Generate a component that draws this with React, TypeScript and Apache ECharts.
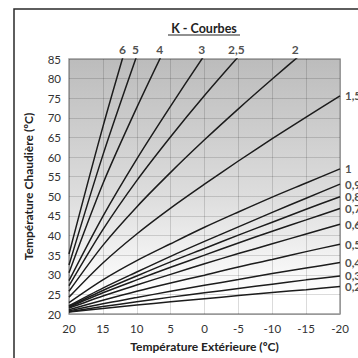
import React, { useEffect, useRef } from "react";
import * as echarts from "echarts";

const outsideTemps = [20, 15, 10, 5, 0, -5, -10, -15, -20];

const curveNames = ["6", "5", "4", "3", "2,5", "2", "1,5", "1", "0,9", "0,8", "0,7", "0,6", "0,5", "0,4", "0,3", "0,2"];

const k6 = [35.3, 67.7, 97.5];
const k5 = [32.5, 60.5, 85.8, 110];
const k4 = [30.5, 53.2, 72.6, 90.7];
const k3 = [28.5, 44.9, 59.5, 73.0, 86.0];
const k25 = [27.2, 41.5, 54.0, 65.2, 75.7, 85.6, 95.2];
const k2 = [25.8, 37.5, 47.3, 56.1, 64.4, 72.3, 79.9, 87.3];
const k15 = [24.3, 33.0, 40.4, 47.0, 53.1, 59.0, 64.7, 70.2, 75.6];
const k1 = [22.9, 28.7, 33.6, 37.9, 42.1, 46.0, 49.8, 53.4, 57.0];
const k09 = [22.1, 26.6, 30.7, 34.7, 38.5, 42.2, 45.9, 49.5, 53.1];
const k08 = [21.9, 26.0, 29.7, 33.3, 36.7, 40.1, 43.4, 46.7, 49.9];
const k07 = [21.7, 25.4, 28.7, 31.9, 35.0, 38.1, 41.1, 44.0, 46.9];
const k06 = [21.5, 24.6, 27.4, 30.1, 32.8, 35.4, 37.9, 40.4, 42.9];
const k05 = [21.1, 23.5, 25.8, 27.9, 29.9, 32.0, 33.9, 35.9, 37.8];
const k04 = [20.8, 22.6, 24.2, 25.8, 27.3, 28.8, 30.3, 31.7, 33.1];
const k03 = [20.6, 21.9, 23.1, 24.3, 25.4, 26.5, 27.6, 28.7, 29.7];
const k02 = [20.5, 21.4, 22.3, 23.1, 23.9, 24.7, 25.5, 26.2, 27.0];

const curves = [k6, k5, k4, k3, k25, k2, k15, k1, k09, k08, k07, k06, k05, k04, k03, k02];

// curves that exit through the top of the plot: where they cross 85
const topLabelNames = ["6", "5", "4", "3", "2,5", "2"];
const topLabelX = [12.1, 10.2, 6.6, 0.4, -4.7, -13.4];
// curves that end on the right edge
const rightLabelNames = ["1,5", "1", "0,9", "0,8", "0,7", "0,6", "0,5", "0,4", "0,3", "0,2"];
const rightCurves = [k15, k1, k09, k08, k07, k06, k05, k04, k03, k02];

const xTicks = { min: -20, max: 20, step: 5 };
const yTicks = { min: 20, max: 85, step: 5 };

const FONT = "Lato";

export default function App() {
  const ref = useRef<HTMLDivElement>(null);
  useEffect(() => {
    document.body.style.margin = "0";
    if (!ref.current) return;
    const chart = echarts.init(ref.current, null, { renderer: "svg" });

    const lineSeries = curves.map((vals, i) => ({
      type: "line",
      name: curveNames[i],
      data: vals.map((v, j) => [outsideTemps[j], v]),
      showSymbol: false,
      smooth: 0.3,
      clip: true,
      lineStyle: { color: "#1c1c1c", width: 1.5 },
      silent: true,
    }));

    const topLabelSeries = {
      type: "scatter",
      symbolSize: 0,
      clip: false,
      silent: true,
      data: topLabelNames.map((n, i) => [topLabelX[i], yTicks.max, n]),
      label: {
        show: true,
        position: "top",
        distance: 4,
        formatter: (p: any) => p.value[2],
        fontFamily: FONT,
        fontWeight: "bold",
        fontSize: 12,
        color: "#222",
      },
    };

    const rightLabelSeries = {
      type: "scatter",
      symbolSize: 0,
      clip: false,
      silent: true,
      data: rightLabelNames.map((n, i) => {
        const c = rightCurves[i];
        return [outsideTemps[c.length - 1], c[c.length - 1], n];
      }),
      label: {
        show: true,
        position: "right",
        distance: 5,
        formatter: (p: any) => p.value[2],
        fontFamily: FONT,
        fontWeight: "bold",
        fontSize: 11.5,
        lineHeight: 11,
        color: "#222",
      },
    };

    chart.setOption({
      animation: false,
      grid: {
        left: 69,
        right: 18,
        top: 59,
        bottom: 44,
        show: true,
        backgroundColor: new echarts.graphic.LinearGradient(0, 0, 0, 1, [
          { offset: 0, color: "#bcbcbc" },
          { offset: 0.55, color: "#dedede" },
          { offset: 0.92, color: "#ffffff" },
          { offset: 1, color: "#ffffff" },
        ]),
        borderColor: "#9a9a9a",
        borderWidth: 1.5,
      },
      xAxis: {
        type: "value",
        min: xTicks.min,
        max: xTicks.max,
        interval: xTicks.step,
        inverse: true,
        name: "Température Extérieure (ºC)",
        nameLocation: "middle",
        nameGap: 26,
        nameTextStyle: { fontFamily: FONT, fontWeight: "bold", fontSize: 12, color: "#222" },
        axisLine: { show: false },
        axisTick: { show: false },
        axisLabel: { fontFamily: FONT, fontSize: 11.5, color: "#333", margin: 8 },
        splitLine: { show: true, lineStyle: { color: "rgba(0,0,0,0.14)", width: 1 } },
      },
      yAxis: {
        type: "value",
        min: yTicks.min,
        max: yTicks.max,
        interval: yTicks.step,
        name: "Température Chaudière (ºC)",
        nameLocation: "middle",
        nameGap: 35,
        nameTextStyle: { fontFamily: FONT, fontWeight: "bold", fontSize: 12, color: "#222" },
        axisLine: { show: false },
        axisTick: { show: false },
        axisLabel: { fontFamily: FONT, fontSize: 11.5, color: "#333", margin: 8 },
        splitLine: { show: true, lineStyle: { color: "rgba(0,0,0,0.14)", width: 1 } },
      },
      graphic: [
        {
          type: "rect",
          shape: { x: 14, y: 9, width: 400, height: 400 },
          style: { fill: "none", stroke: "#2a2a2a", lineWidth: 1.5 },
          silent: true,
        },
        {
          type: "text",
          x: 204,
          y: 28,
          style: {
            text: "K - Courbes",
            fontFamily: FONT,
            fontWeight: "bold",
            fontSize: 12.5,
            fill: "#222",
            align: "center",
            verticalAlign: "middle",
          },
          silent: true,
        },
        {
          type: "line",
          shape: { x1: 168, y1: 35, x2: 240, y2: 35 },
          style: { stroke: "#222", lineWidth: 1 },
          silent: true,
        },
      ],
      series: [...lineSeries, topLabelSeries, rightLabelSeries],
    });
    return () => chart.dispose();
  }, []);
  return <div ref={ref} style={{ width: 358, height: 358 }} />;
}
